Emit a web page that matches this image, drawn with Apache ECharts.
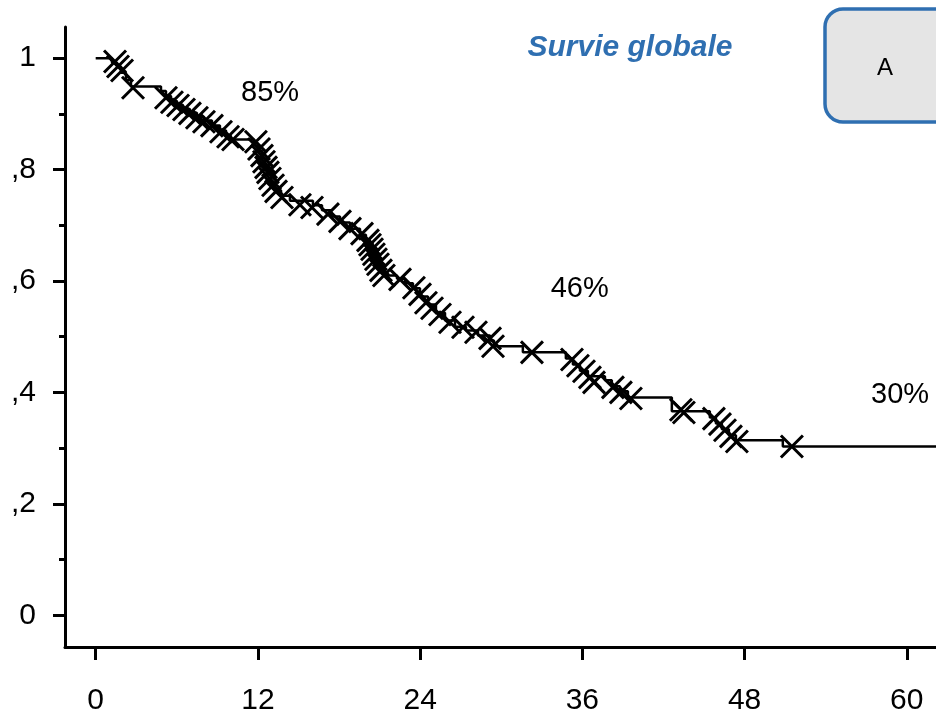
<!DOCTYPE html>
<html>
<head>
<meta charset="utf-8">
<script src="https://cdn.jsdelivr.net/npm/echarts@6/dist/echarts.min.js"></script>
<style>
  html, body { margin: 0; padding: 0; background: #fff; }
  #chart { width: 936px; height: 720px; }
</style>
</head>
<body>
<div id="chart"></div>
<script>
// Kaplan-Meier estimate of overall survival (months, survival probability)
const stepTimes = [0, 1.21, 1.58, 1.87, 2.24, 2.61, 4.83, 5.20, 5.57, 6.01, 6.46, 6.97, 7.49, 8.01, 8.60, 9.19, 9.64, 10.0,
  11.7, 12.0, 12.3, 12.52, 12.74, 12.97, 13.26, 13.71, 14.37, 16.07, 16.74, 17.40, 18.07, 18.81, 19.55, 19.99,
  20.29, 20.58, 20.80, 21.03, 21.32, 22.29, 22.88, 23.47, 23.99, 24.58, 25.17, 25.84, 26.58, 27.39, 28.28, 29.17,
  29.46, 31.6, 34.78, 35.30, 35.82, 36.41, 37.67, 38.18, 38.78, 39.37, 42.62, 45.43, 45.88, 46.32, 46.84, 47.36,
  50.83, 62.2];
const stepSurvival = [1.0, 0.992, 0.985, 0.974, 0.961, 0.949, 0.941, 0.932, 0.923, 0.916, 0.909, 0.902, 0.895, 0.888, 0.879, 0.870, 0.861, 0.854,
  0.847, 0.834, 0.820, 0.805, 0.791, 0.777, 0.763, 0.753, 0.744, 0.736, 0.727, 0.716, 0.705, 0.694, 0.683, 0.673,
  0.660, 0.648, 0.635, 0.623, 0.610, 0.604, 0.596, 0.587, 0.572, 0.558, 0.543, 0.529, 0.518, 0.511, 0.502, 0.493,
  0.483, 0.472, 0.461, 0.450, 0.439, 0.429, 0.422, 0.411, 0.402, 0.391, 0.366, 0.355, 0.344, 0.334, 0.323, 0.314,
  0.303, 0.303];

// Censored observations
const censorTimes = [1.43, 1.65, 1.95, 2.76, 5.20, 5.64, 6.09, 6.53, 6.97, 7.49, 8.01, 8.60, 9.27, 9.79, 10.16,
  11.85, 12.08, 12.30, 12.45, 12.60, 12.74, 12.89, 13.12, 13.34, 13.78, 15.11, 16.0, 17.18, 18.07, 18.81, 19.70,
  20.14, 20.29, 20.44, 20.58, 20.73, 20.88, 21.10, 21.32, 22.51, 23.54, 23.99, 24.43, 24.88, 25.47, 26.21, 27.17,
  28.13, 29.17, 29.39, 32.27, 35.23, 35.67, 36.12, 36.56, 36.86, 38.26, 38.85, 39.59, 43.29, 43.51, 45.73, 46.18,
  46.55, 46.99, 47.43, 51.5];
const censorSurvival = [0.994, 0.985, 0.978, 0.947, 0.929, 0.921, 0.915, 0.908, 0.901, 0.893, 0.886, 0.879, 0.868, 0.859, 0.854,
  0.850, 0.837, 0.825, 0.814, 0.804, 0.795, 0.784, 0.772, 0.761, 0.750, 0.737, 0.732, 0.720, 0.707, 0.694, 0.685,
  0.673, 0.665, 0.657, 0.648, 0.639, 0.630, 0.619, 0.610, 0.603, 0.588, 0.576, 0.561, 0.551, 0.540, 0.526, 0.517,
  0.508, 0.497, 0.483, 0.472, 0.459, 0.448, 0.438, 0.427, 0.418, 0.409, 0.400, 0.389, 0.369, 0.364, 0.353, 0.343,
  0.332, 0.321, 0.312, 0.303];

// Survival rates annotated at 12, 36 and 60 months
const rateText = ['85%', '46%', '30%'];
const rateTime = [12.9, 35.8, 59.5];
const rateLevel = [0.938, 0.585, 0.395];

const xTicks = [0, 12, 24, 36, 48, 60];
const yTicks = [0, 0.2, 0.4, 0.6, 0.8, 1];
const yMinorTicks = [0.1, 0.3, 0.5, 0.7, 0.9];

const FONT = '"Liberation Sans", Arial, sans-serif';
const BLUE = '#2f6fb1';

const chart = echarts.init(document.getElementById('chart'), null, { renderer: 'canvas' });

const curve = stepTimes.map((t, i) => [t, stepSurvival[i]]);
const censored = censorTimes.map((t, i) => [t, censorSurvival[i]]);
const rates = rateText.map((s, i) => ({ value: [rateTime[i], rateLevel[i]], name: s }));

chart.setOption({
  animation: false,
  backgroundColor: '#ffffff',
  title: {
    text: 'Survie globale',
    left: 625, top: 28, textAlign: 'center',
    textStyle: { fontFamily: FONT, fontSize: 30, fontWeight: 'bold', fontStyle: 'italic', color: BLUE }
  },
  grid: { left: 65, right: 0, top: 27, bottom: 73, containLabel: false },
  xAxis: {
    type: 'value', min: -2.27, max: 62.16,
    axisLine: { show: true, onZero: false, lineStyle: { color: '#000', width: 3 } },
    axisTick: { show: true, customValues: xTicks, length: 13, lineStyle: { color: '#000', width: 3 } },
    axisLabel: { customValues: xTicks, margin: 39, fontFamily: FONT, fontSize: 30, color: '#000' },
    splitLine: { show: false }
  },
  yAxis: [{
    type: 'value', min: -0.057, max: 1.056,
    axisLine: { show: true, onZero: false, lineStyle: { color: '#000', width: 3 } },
    axisTick: { show: true, customValues: yTicks, length: 12, lineStyle: { color: '#000', width: 3 } },
    axisLabel: {
      customValues: yTicks, margin: 29, fontFamily: FONT, fontSize: 30, color: '#000',
      formatter: v => {
        const k = Math.round(v * 10);
        if (k === 0) return '0';
        if (k === 10) return '1';
        return ',' + k;
      }
    },
    splitLine: { show: false }
  }, {
    // minor ticks between the labelled values
    type: 'value', min: -0.057, max: 1.056, position: 'left',
    axisLine: { show: false, onZero: false },
    axisTick: { show: true, customValues: yMinorTicks, length: 6, lineStyle: { color: '#000', width: 3 } },
    axisLabel: { show: false },
    splitLine: { show: false }
  }],
  series: [{
    type: 'line',
    step: 'end',
    data: curve,
    symbol: 'none',
    lineStyle: { color: '#000', width: 2.5 },
    clip: true,
    z: 2
  }, {
    type: 'scatter',
    data: censored,
    symbol: 'path://M0,0L10,10M10,0L0,10',
    symbolSize: 22,
    itemStyle: { color: 'rgba(0,0,0,0)', borderColor: '#000', borderWidth: 3, opacity: 1 },
    z: 3
  }, {
    type: 'scatter',
    data: rates,
    symbolSize: 0,
    itemStyle: { opacity: 1 },
    label: {
      show: true, position: 'inside', formatter: p => p.name,
      fontFamily: FONT, fontSize: 29, color: '#000'
    },
    z: 4
  }],
  graphic: [{
    type: 'rect',
    shape: { x: 825, y: 9, width: 140, height: 113, r: 18 },
    style: { fill: '#e5e5e5', stroke: BLUE, lineWidth: 3.5 },
    z: 10
  }, {
    type: 'text',
    x: 885, y: 68,
    style: { text: 'A', fontFamily: FONT, fontSize: 24, fill: '#000', align: 'center', verticalAlign: 'middle' },
    z: 11
  }]
});
</script>
</body>
</html>
